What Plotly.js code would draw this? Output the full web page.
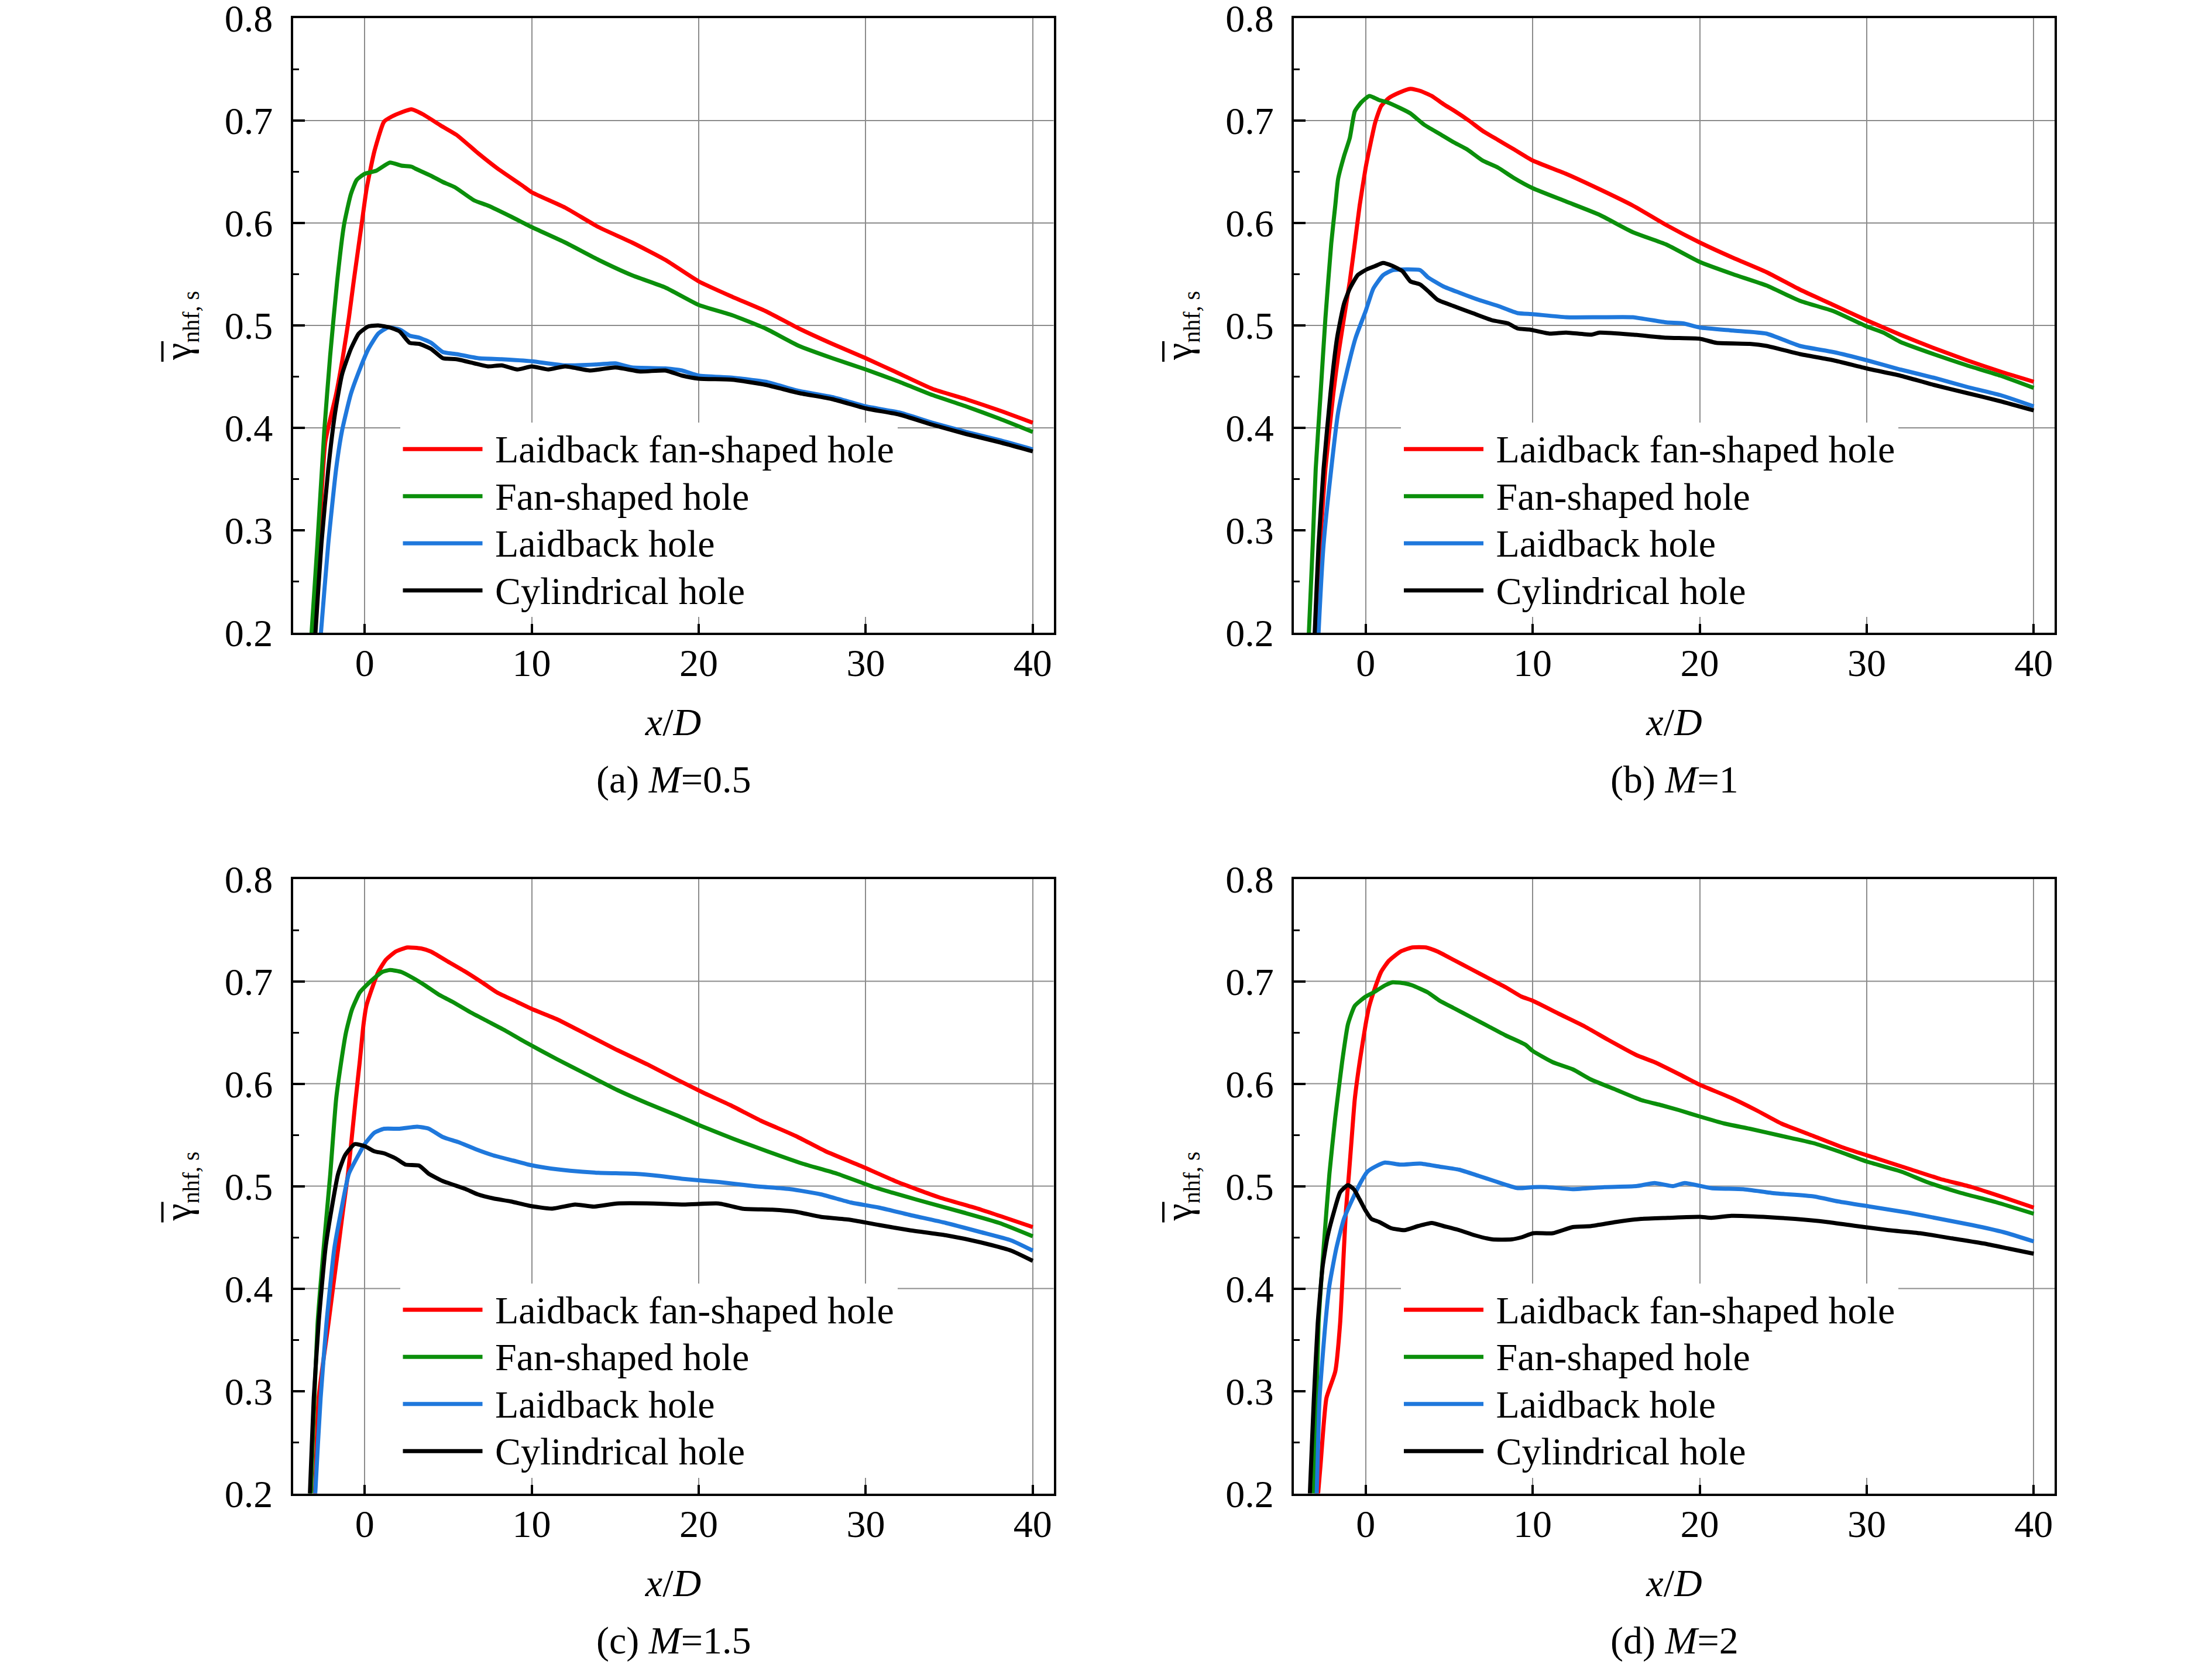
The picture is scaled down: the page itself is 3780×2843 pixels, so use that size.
<!DOCTYPE html>
<html>
<head>
<meta charset="utf-8">
<script src="https://cdn.plot.ly/plotly-3.0.1.min.js"></script>
<style>html,body{margin:0;padding:0;background:#fff;}#plot{width:3780px;height:2843px;}</style>
</head>
<body>
<div id="plot"></div>
<script>
// ---------- data ----------
const SERIES_NAMES = ["Laidback fan-shaped hole", "Fan-shaped hole", "Laidback hole", "Cylindrical hole"];
const PANEL_CAPTIONS = ["(a) <i>M</i>=0.5", "(b) <i>M</i>=1", "(c) <i>M</i>=1.5", "(d) <i>M</i>=2"];
const X_TICKS = [0, 10, 20, 30, 40];
const Y_TICKS = [0.2, 0.3, 0.4, 0.5, 0.6, 0.7, 0.8];
const Y_MINOR = [0.25, 0.35, 0.45, 0.55, 0.65, 0.75];
const Y_GRID = [0.4, 0.5, 0.6, 0.7];

// (a) M=0.5
const A_LFS_X = [-3.12, -2.83, -2.36, -1.71, -1.3, -0.95, -0.66, -0.19, 0.11, 0.58, 1.16, 1.63, 2.2, 2.8, 3.5, 4.57, 5.5, 6.8, 7.97, 9.4, 10, 12, 14, 16, 18, 20, 22, 24, 26, 28, 30, 32, 34, 36, 38, 40];
const A_LFS_Y = [0.18, 0.261, 0.386, 0.433, 0.47, 0.507, 0.543, 0.598, 0.633, 0.67, 0.699, 0.704, 0.708, 0.711, 0.706, 0.695, 0.686, 0.668, 0.653, 0.637, 0.63, 0.615, 0.596, 0.581, 0.564, 0.543, 0.528, 0.514, 0.497, 0.482, 0.468, 0.453, 0.438, 0.428, 0.417, 0.405];
const A_FS_X = [-3.26, -3.18, -2.83, -2.42, -2.07, -1.65, -1.24, -0.83, -0.48, 0, 0.69, 1.51, 2.2, 2.8, 3.04, 3.98, 4.68, 5.39, 6.56, 7.38, 8.79, 10, 12, 14, 16, 18, 20, 22, 24, 26, 28, 30, 32, 34, 36, 38, 40];
const A_FS_Y = [0.18, 0.2, 0.287, 0.397, 0.47, 0.543, 0.598, 0.628, 0.642, 0.648, 0.651, 0.659, 0.656, 0.655, 0.653, 0.646, 0.64, 0.635, 0.622, 0.617, 0.606, 0.596, 0.581, 0.564, 0.549, 0.537, 0.52, 0.51, 0.497, 0.48, 0.468, 0.457, 0.445, 0.432, 0.421, 0.409, 0.396];
const A_LB_X = [-2.72, -2.62, -2.18, -1.71, -1.36, -0.83, -0.25, 0.22, 0.81, 1.4, 2.1, 2.69, 3.27, 3.98, 4.68, 5.5, 6.8, 8.2, 10, 12, 14, 15, 16, 18, 19, 20, 22, 24, 26, 28, 30, 32, 34, 36, 38, 40];
const A_LB_Y = [0.18, 0.2, 0.287, 0.36, 0.397, 0.433, 0.459, 0.477, 0.492, 0.498, 0.496, 0.49, 0.488, 0.483, 0.474, 0.472, 0.468, 0.467, 0.465, 0.461, 0.462, 0.463, 0.459, 0.458, 0.456, 0.451, 0.449, 0.445, 0.436, 0.43, 0.421, 0.415, 0.405, 0.396, 0.388, 0.379];
const A_CYL_X = [-3.03, -2.95, -2.59, -2.18, -1.77, -1.36, -0.83, -0.36, 0.22, 0.81, 1.51, 2.1, 2.69, 3.27, 3.98, 4.68, 5.5, 6.56, 7.38, 8.2, 9.14, 10, 11, 12, 13.5, 15, 16.5, 18, 19, 20, 22, 24, 26, 28, 30, 32, 34, 36, 38, 40];
const A_CYL_Y = [0.18, 0.2, 0.287, 0.36, 0.415, 0.452, 0.477, 0.492, 0.499, 0.5, 0.498, 0.494, 0.483, 0.482, 0.477, 0.468, 0.467, 0.463, 0.46, 0.461, 0.457, 0.46, 0.457, 0.46, 0.456, 0.459, 0.455, 0.456, 0.451, 0.448, 0.447, 0.442, 0.434, 0.428, 0.419, 0.413, 0.403, 0.394, 0.386, 0.377];

// (b) M=1
const B_LFS_X = [-3.05, -2.64, -2.41, -1.94, -1.65, -1.3, -0.95, -0.65, -0.36, 0, 0.22, 0.57, 0.92, 1.39, 1.97, 2.68, 3.26, 3.96, 4.66, 5.36, 6.18, 7.0, 7.93, 8.87, 10, 12, 14, 16, 18, 20, 22, 24, 26, 28, 30, 32, 34, 36, 38, 40];
const B_LFS_Y = [0.19, 0.308, 0.36, 0.433, 0.47, 0.507, 0.543, 0.58, 0.617, 0.654, 0.672, 0.698, 0.714, 0.722, 0.727, 0.731, 0.729, 0.724, 0.716, 0.709, 0.7, 0.69, 0.681, 0.672, 0.661, 0.648, 0.633, 0.617, 0.598, 0.581, 0.566, 0.552, 0.535, 0.52, 0.505, 0.491, 0.478, 0.466, 0.455, 0.445];
const B_FS_X = [-3.45, -3.4, -3.17, -2.99, -2.7, -2.41, -2.06, -1.82, -1.65, -1.3, -0.95, -0.65, -0.25, 0.22, 0.81, 1.27, 2.09, 2.68, 3.5, 4.43, 5.25, 6.06, 7.0, 7.93, 8.87, 10, 12, 14, 16, 18, 20, 22, 24, 26, 28, 30, 31, 32, 34, 36, 38, 40];
const B_FS_Y = [0.18, 0.2, 0.286, 0.36, 0.433, 0.507, 0.58, 0.617, 0.643, 0.665, 0.683, 0.709, 0.718, 0.724, 0.72, 0.718, 0.712, 0.707, 0.696, 0.687, 0.679, 0.672, 0.661, 0.654, 0.644, 0.634, 0.621, 0.608, 0.591, 0.579, 0.562, 0.55, 0.539, 0.524, 0.514, 0.499, 0.493, 0.484, 0.472, 0.461, 0.451, 0.439];
const B_LB_X = [-2.87, -2.82, -2.52, -2.06, -1.65, -1.18, -0.6, 0, 0.46, 1.04, 1.62, 3.26, 3.73, 4.66, 5.6, 6.76, 7.93, 9.1, 10, 12, 14, 16, 18, 19, 20, 22, 24, 26, 28, 30, 32, 34, 36, 38, 40];
const B_LB_Y = [0.18, 0.2, 0.286, 0.36, 0.415, 0.451, 0.488, 0.514, 0.536, 0.549, 0.554, 0.554, 0.547, 0.538, 0.532, 0.525, 0.519, 0.512, 0.511, 0.508, 0.508, 0.508, 0.503, 0.502, 0.498, 0.495, 0.492, 0.48, 0.474, 0.466, 0.457, 0.449, 0.44, 0.432, 0.421];
const B_CYL_X = [-3.1, -3.05, -2.82, -2.52, -2.11, -1.71, -1.3, -0.95, -0.48, 0.1, 0.57, 1.04, 1.62, 2.2, 2.68, 3.26, 3.84, 4.31, 5.25, 6.41, 7.58, 8.52, 9.1, 9.8, 11, 12, 13.5, 14, 16, 18, 20, 21, 23, 24, 26, 28, 30, 32, 34, 36, 38, 40];
const B_CYL_Y = [0.18, 0.2, 0.286, 0.36, 0.433, 0.488, 0.521, 0.536, 0.549, 0.555, 0.558, 0.561, 0.558, 0.553, 0.543, 0.54, 0.532, 0.525, 0.519, 0.512, 0.505, 0.502, 0.497, 0.496, 0.492, 0.493, 0.491, 0.493, 0.491, 0.488, 0.487, 0.483, 0.482, 0.48, 0.472, 0.466, 0.458, 0.451, 0.442, 0.434, 0.426, 0.417];

// (c) M=1.5
const C_LFS_X = [-3.0, -2.93, -2.76, -2.17, -1.88, -1.59, -1.3, -1.0, -0.77, -0.54, -0.3, -0.07, 0.1, 0.46, 0.81, 1.27, 1.86, 2.56, 3.38, 3.96, 4.9, 6.06, 7.11, 7.93, 9.1, 10, 11.5, 13.3, 15.1, 16.9, 18.7, 20.3, 21.9, 23.7, 25.8, 27.6, 29.8, 31.9, 34.4, 36.9, 40];
const C_LFS_Y = [0.19, 0.221, 0.293, 0.366, 0.403, 0.439, 0.476, 0.512, 0.548, 0.585, 0.621, 0.658, 0.676, 0.694, 0.709, 0.721, 0.729, 0.733, 0.732, 0.729, 0.72, 0.709, 0.698, 0.689, 0.68, 0.673, 0.663, 0.648, 0.633, 0.619, 0.604, 0.591, 0.579, 0.564, 0.549, 0.534, 0.519, 0.504, 0.489, 0.477, 0.46];
const C_FS_X = [-3.3, -3.22, -3.1, -2.82, -2.46, -2.06, -1.71, -1.41, -1.12, -0.77, -0.3, 0.1, 0.57, 1.04, 1.51, 2.2, 2.91, 3.61, 4.43, 5.25, 6.3, 7.35, 8.4, 9.57, 11.5, 13.3, 15.1, 16.9, 18.7, 20.1, 22.1, 24.1, 26.2, 28.3, 30.5, 33, 35.9, 38, 40];
const C_FS_Y = [0.18, 0.2, 0.257, 0.366, 0.439, 0.512, 0.585, 0.621, 0.65, 0.672, 0.689, 0.696, 0.703, 0.709, 0.711, 0.709, 0.703, 0.696, 0.687, 0.68, 0.67, 0.661, 0.652, 0.641, 0.624, 0.609, 0.594, 0.581, 0.569, 0.559, 0.546, 0.534, 0.522, 0.512, 0.499, 0.487, 0.474, 0.464, 0.451];
const C_LB_X = [-3.0, -2.96, -2.64, -2.29, -1.82, -1.41, -0.95, -0.25, 0, 0.57, 1.16, 2.09, 3.14, 3.84, 4.66, 5.6, 6.65, 7.7, 8.87, 9.8, 10.8, 12.3, 14, 16.2, 17.6, 19.1, 21.2, 23.3, 25.5, 27.3, 29.1, 30.8, 32.6, 34.8, 36.9, 38.7, 40];
const C_LB_Y = [0.18, 0.2, 0.293, 0.366, 0.439, 0.476, 0.512, 0.534, 0.541, 0.552, 0.556, 0.556, 0.558, 0.556, 0.548, 0.543, 0.536, 0.53, 0.525, 0.521, 0.518, 0.515, 0.513, 0.512, 0.51, 0.507, 0.504, 0.5, 0.497, 0.492, 0.484, 0.479, 0.472, 0.464, 0.455, 0.447, 0.437];
const C_CYL_X = [-3.33, -3.28, -3.05, -2.76, -2.35, -2.0, -1.59, -1.18, -0.6, 0, 0.57, 1.16, 1.86, 2.44, 3.26, 3.84, 4.66, 5.36, 6.06, 6.76, 7.7, 8.75, 9.8, 11.2, 12.6, 13.7, 15.1, 17.3, 19.1, 21.2, 22.6, 24.4, 25.8, 27.3, 29.1, 30.8, 32.6, 34.8, 36.9, 38.7, 40];
const C_CYL_Y = [0.18, 0.2, 0.293, 0.366, 0.439, 0.476, 0.512, 0.53, 0.541, 0.539, 0.534, 0.532, 0.527, 0.521, 0.52, 0.512, 0.505, 0.501, 0.497, 0.492, 0.488, 0.485, 0.481, 0.478, 0.482, 0.48, 0.483, 0.483, 0.482, 0.483, 0.478, 0.477, 0.475, 0.47, 0.467, 0.462, 0.457, 0.452, 0.445, 0.437, 0.427];

// (d) M=2
const D_LFS_X = [-2.95, -2.7, -2.35, -1.82, -1.53, -1.3, -1.18, -1.0, -0.83, -0.65, -0.36, 0, 0.22, 0.57, 0.92, 1.39, 2.09, 2.79, 3.61, 4.31, 5.25, 6.3, 7.35, 8.4, 9.33, 10, 11.6, 13.1, 14.5, 16.2, 17.3, 18.8, 20, 21.9, 23.4, 24.9, 26.8, 28.7, 30.6, 32.5, 34.4, 36.3, 38.2, 40];
const D_LFS_Y = [0.18, 0.228, 0.293, 0.319, 0.366, 0.439, 0.476, 0.512, 0.548, 0.585, 0.621, 0.658, 0.676, 0.694, 0.709, 0.72, 0.729, 0.733, 0.733, 0.729, 0.721, 0.712, 0.703, 0.694, 0.685, 0.681, 0.668, 0.656, 0.643, 0.628, 0.621, 0.609, 0.599, 0.586, 0.574, 0.561, 0.549, 0.537, 0.527, 0.517, 0.507, 0.499, 0.489, 0.479];
const D_FS_X = [-3.17, -3.1, -2.82, -2.52, -2.17, -1.82, -1.41, -1.06, -0.65, 0, 0.57, 1.16, 1.62, 2.32, 2.79, 3.73, 4.43, 5.25, 6.3, 7.35, 8.4, 9.57, 10, 11.2, 12.4, 13.5, 15, 16.5, 17.7, 18.8, 20, 21.5, 23, 24.9, 26.8, 28.3, 30, 32.1, 33.6, 35.5, 37.8, 40];
const D_FS_Y = [0.18, 0.2, 0.366, 0.439, 0.512, 0.567, 0.621, 0.658, 0.676, 0.685, 0.69, 0.696, 0.699, 0.698, 0.696, 0.689, 0.681, 0.674, 0.665, 0.656, 0.647, 0.638, 0.632, 0.621, 0.614, 0.604, 0.594, 0.584, 0.579, 0.574, 0.568, 0.561, 0.556, 0.549, 0.542, 0.534, 0.524, 0.514, 0.504, 0.494, 0.484, 0.473];
const D_LB_X = [-2.98, -2.93, -2.76, -2.41, -2.17, -1.76, -1.3, -0.71, -0.25, 0.1, 0.57, 1.16, 2.09, 3.26, 4.43, 5.6, 6.76, 7.7, 9.1, 10.03, 10.85, 12.4, 14.3, 16.2, 17.3, 18.4, 19.1, 20.7, 22.6, 24.5, 26.8, 28.3, 30.2, 32.5, 34.4, 36.3, 38.2, 40];
const D_LB_Y = [0.18, 0.2, 0.293, 0.366, 0.403, 0.439, 0.468, 0.49, 0.505, 0.514, 0.519, 0.523, 0.521, 0.522, 0.519, 0.516, 0.51, 0.505, 0.498, 0.499, 0.499, 0.497, 0.499, 0.5, 0.503, 0.5, 0.503, 0.498, 0.497, 0.493, 0.49, 0.485, 0.48, 0.474, 0.468, 0.462, 0.455, 0.446];
const D_CYL_X = [-3.38, -3.34, -3.1, -2.87, -2.58, -2.29, -1.88, -1.53, -1.06, -0.71, -0.36, 0, 0.34, 0.81, 1.51, 2.32, 3.14, 3.96, 4.66, 5.6, 6.53, 7.58, 8.75, 9.33, 10.03, 11.2, 12.4, 13.5, 15, 16.5, 18.1, 20, 20.7, 21.9, 23.8, 25.7, 27.6, 29.4, 31.3, 33.2, 35.1, 37, 38.5, 40];
const D_CYL_Y = [0.18, 0.2, 0.293, 0.366, 0.421, 0.45, 0.476, 0.494, 0.501, 0.497, 0.487, 0.476, 0.468, 0.465, 0.459, 0.457, 0.461, 0.464, 0.461, 0.457, 0.452, 0.448, 0.448, 0.45, 0.454, 0.454, 0.46, 0.461, 0.465, 0.468, 0.469, 0.47, 0.469, 0.471, 0.47, 0.468, 0.465, 0.461, 0.457, 0.454, 0.449, 0.444, 0.439, 0.434];

// ---------- styling ----------
const W = 3780, H = 2843;
const FONT = 'Liberation Serif, "Times New Roman", Times, serif';
const COLORS = ['#ff0000', '#0b8f0b', '#1f78dc', '#000000'];
const FS = 66;          // text size
const LEG_FS = 59.6;    // legend font size (controls row pitch)

// panel frames in pixels [left, right, top, bottom]
const FRAMES = [
  [500.5, 1800.5, 31, 1081],
  [2211, 3511, 31, 1081],
  [500.5, 1800.5, 1501.5, 2551.5],
  [2211, 3511, 1501.5, 2551.5]
];

const PANEL_DATA = [
  [[A_LFS_X, A_LFS_Y], [A_FS_X, A_FS_Y], [A_LB_X, A_LB_Y], [A_CYL_X, A_CYL_Y]],
  [[B_LFS_X, B_LFS_Y], [B_FS_X, B_FS_Y], [B_LB_X, B_LB_Y], [B_CYL_X, B_CYL_Y]],
  [[C_LFS_X, C_LFS_Y], [C_FS_X, C_FS_Y], [C_LB_X, C_LB_Y], [C_CYL_X, C_CYL_Y]],
  [[D_LFS_X, D_LFS_Y], [D_FS_X, D_FS_Y], [D_LB_X, D_LB_Y], [D_CYL_X, D_CYL_Y]]
];

const traces = [];
const layout = {
  width: W, height: H,
  margin: {l: 0, r: 0, t: 0, b: 0},
  paper_bgcolor: '#fff', plot_bgcolor: '#fff',
  font: {family: FONT, size: FS, color: '#000'},
  showlegend: true,
  shapes: [], annotations: []
};

PANEL_DATA.forEach((panel, p) => {
  const n = p + 1;
  const sfx = (n === 1 ? '' : String(n));
  const xa = 'x' + sfx, ya = 'y' + sfx;
  const legName = 'legend' + sfx;
  const [L, R, T, B] = FRAMES[p];
  panel.forEach((s, k) => {
    traces.push({
      type: 'scatter', mode: 'lines',
      x: s[0], y: s[1],
      name: '<span style="font-size:' + FS + 'px">\u00a0' + SERIES_NAMES[k] + '</span>',
      xaxis: xa, yaxis: ya, legend: legName,
      line: {color: COLORS[k], width: 7, shape: 'spline', smoothing: 0.5},
      cliponaxis: true, hoverinfo: 'skip'
    });
  });
  layout['xaxis' + sfx] = {
    domain: [L / W, R / W], anchor: ya,
    range: [-4.3, 41.25], tickvals: X_TICKS, ticktext: X_TICKS.map(String),
    ticks: 'inside', ticklen: 15, tickwidth: 4, tickcolor: '#000',
    showline: true, linewidth: 4, linecolor: '#000', mirror: true,
    showgrid: true, gridcolor: '#8c8c8c', gridwidth: 2, zeroline: false,
    tickfont: {family: FONT, size: FS, color: '#000'},
    ticklabelstandoff: -9, ticklabeloverflow: 'allow',
    title: {text: '<i>x</i>/<i>D</i>', font: {family: FONT, size: FS, color: '#000'}, standoff: 43},
    fixedrange: true
  };
  layout['yaxis' + sfx] = {
    domain: [1 - B / H, 1 - T / H], anchor: xa,
    range: [0.2, 0.8], tickvals: Y_TICKS, ticktext: Y_TICKS.map(v => v.toFixed(1)),
    ticks: 'inside', ticklen: 20, tickwidth: 4, tickcolor: '#000',
    minor: {tickvals: Y_MINOR, ticks: 'inside', ticklen: 10, tickwidth: 3, tickcolor: '#000', showgrid: false},
    showline: true, linewidth: 4, linecolor: '#000', mirror: true,
    showgrid: false, zeroline: false,
    tickfont: {family: FONT, size: FS, color: '#000'},
    ticklabelstandoff: 17, ticklabeloverflow: 'allow',
    title: {text: 'γ<sub><span style="font-size:40px">nhf, s</span></sub>', font: {family: FONT, size: FS, color: '#000'}, standoff: 37},
    fixedrange: true
  };
  Y_GRID.forEach(v => {
    layout.shapes.push({type: 'line', xref: xa + ' domain', yref: ya, x0: 0, x1: 1, y0: v, y1: v,
      layer: 'below', line: {color: '#8c8c8c', width: 2}});
  });
  // overline bar of the y-axis symbol
  const barX = (L - 223) / W;
  layout.shapes.push({type: 'line', xref: 'paper', yref: 'paper',
    x0: barX, x1: barX, y0: 1 - (T + 552) / H, y1: 1 - (T + 587) / H,
    line: {color: '#000', width: 4}});
  layout[legName] = {
    x: (L + 183) / W, y: 1 - (T + 691) / H, xanchor: 'left', yanchor: 'top',
    xref: 'paper', yref: 'paper',
    bgcolor: '#ffffff', borderwidth: 0,
    font: {family: FONT, size: LEG_FS, color: '#000'},
    itemwidth: 136, tracegroupgap: 0, traceorder: 'normal'
  };
  layout.annotations.push({
    text: PANEL_CAPTIONS[p], xref: 'paper', yref: 'paper',
    x: (L + R) / 2 / W, y: 1 - (B + 251) / H, xanchor: 'center', yanchor: 'middle',
    showarrow: false, font: {family: FONT, size: FS, color: '#000'}
  });
});

Plotly.newPlot('plot', traces, layout, {displayModeBar: false, staticPlot: true});
</script>
</body>
</html>
